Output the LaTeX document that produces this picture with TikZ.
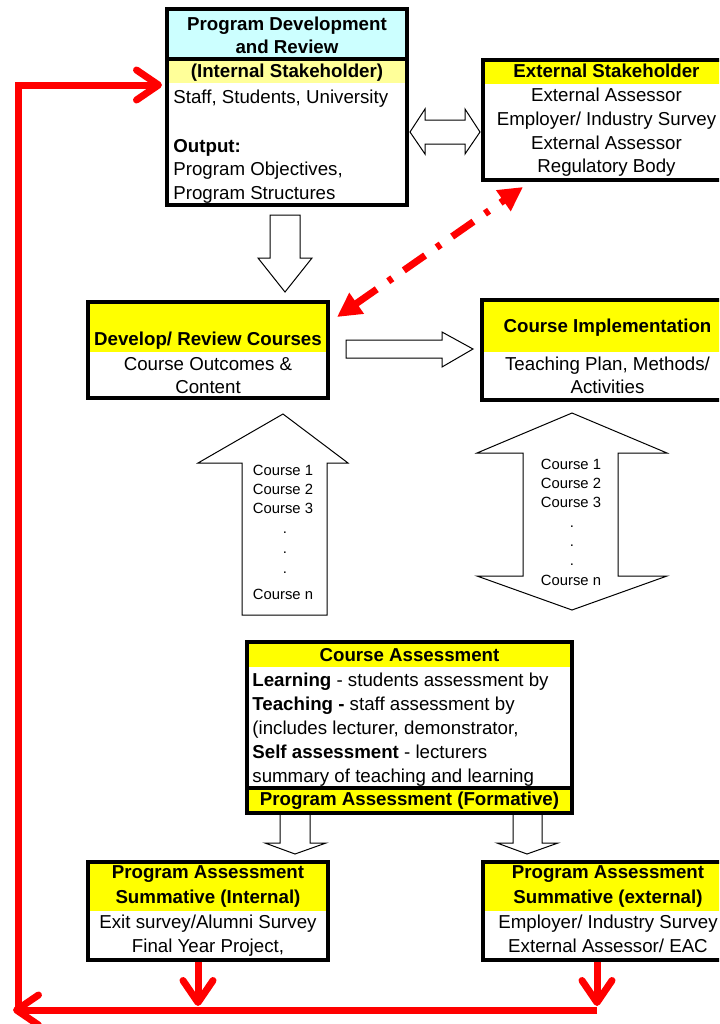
\documentclass[tikz,border=0pt]{standalone}
\usepackage{fontspec}
\setmainfont{Liberation Sans}
\usetikzlibrary{arrows.meta}
\definecolor{hdyellow}{HTML}{FFFF00}
\definecolor{hdcyan}{HTML}{CCFFFF}
\definecolor{ltyellow}{HTML}{FFFF99}
\definecolor{arrred}{HTML}{FF0000}
\begin{document}
\begin{tikzpicture}[x=0.5pt,y=-0.5pt,
 box/.style={draw=black, line width=1.75pt, inner sep=0, outer sep=0},
 sepline/.style={draw=black, line width=1.6pt},
 txt/.style={inner sep=0, anchor=base, font=\fontsize{9.35pt}{11pt}\selectfont},
 txtb/.style={txt, font=\fontsize{9.35pt}{11pt}\selectfont\bfseries},
 txtl/.style={txt, anchor=base west},
 txtlb/.style={txtb, anchor=base west},
 crs/.style={inner sep=0, anchor=base, font=\fontsize{7.4pt}{9pt}\selectfont},
 blk/.style={draw=black, line width=0.5pt, fill=white, line join=miter},
 redarr/.style={draw=arrred, line width=3.5pt, -{Straight Barb[length=11pt,width=15pt,round]}},
 dasharr/.style={draw=arrred, line width=3.5pt, dash pattern=on 13pt off 7pt on 2.5pt off 7pt,
   {Triangle[length=12pt,width=12pt]}-{Triangle[length=12pt,width=12pt]}}
]
\useasboundingbox (0,0) rectangle (719,1024);
\clip (0,0) rectangle (719,1024);

% ---- block arrows
\draw[blk] (270,215) -- (300,215) -- (300,258) -- (312,258) -- (285,292) -- (258,258) -- (270,258) -- cycle;
\draw[blk] (410,132) -- (425,109) -- (425,120) -- (465,120) -- (465,109) -- (480,132) -- (465,154) -- (465,144) -- (425,144) -- (425,154) -- cycle;
\draw[blk] (346,340) -- (442,340) -- (442,332) -- (473,349) -- (442,367) -- (442,358) -- (346,358) -- cycle;
\draw[blk] (283,414) -- (348,463) -- (327,463) -- (327,615) -- (242,615) -- (242,463) -- (198,463) -- cycle;
\draw[blk] (572,413) -- (667,453) -- (618,453) -- (618,576) -- (667,576) -- (572,610) -- (477,576) -- (523,576) -- (523,453) -- (477,453) -- cycle;
\draw[blk] (280,813) -- (310,813) -- (310,843) -- (326,843) -- (295,854) -- (265,843) -- (280,843) -- cycle;
\draw[blk] (513,813) -- (542,813) -- (542,843) -- (558,843) -- (527,854) -- (497,843) -- (513,843) -- cycle;

% ---- header fills
\fill[hdcyan] (167,9) rectangle (407,59);
\fill[ltyellow] (167,59) rectangle (407,83);
\fill[hdyellow] (483,60) rectangle (730,84);
\fill[hdyellow] (88,302) rectangle (328,352);
\fill[hdyellow] (482,300) rectangle (733,352);
\fill[hdyellow] (247,642) rectangle (572,667);
\fill[hdyellow] (247,788) rectangle (572,813);
\fill[hdyellow] (88,862) rectangle (328,911);
\fill[hdyellow] (483,862) rectangle (733,911);

% ---- boxes
\node[box, minimum width=120pt, minimum height=98pt] (pd) at (287,107) {};
\node[box, minimum width=123.5pt, minimum height=60pt] (es) at (606.5,120) {};
\node[box, minimum width=120pt, minimum height=48pt] (dv) at (208,350) {};
\node[box, minimum width=125.5pt, minimum height=50pt] (ci) at (607.5,350) {};
\node[box, minimum width=162.5pt, minimum height=85.5pt] (ca) at (409.5,727.5) {};
\node[box, minimum width=120pt, minimum height=49pt] (si) at (208,911) {};
\node[box, minimum width=125pt, minimum height=49pt] (se) at (608,911) {};
\draw[sepline] (167,59) -- (407,59);
\draw[sepline] (247,788) -- (572,788);

% ---- texts: program development
\node[txtb] (pd1) at (287,30) {Program Development};
\node[txtb] (pd2) at (287,53.5) {and Review};
\node[txtb] (pd3) at (287,77) {(Internal Stakeholder)};
\node[txtl] (pd4) at (173,103) {Staff, Students, University};
\node[txtlb] (pd5) at (173,152) {Output:};
\node[txtl] (pd6) at (173,175.5) {Program Objectives,};
\node[txtl] (pd7) at (173,199) {Program Structures};

% external stakeholder
\node[txtb] (es1) at (606.5,77) {External Stakeholder};
\node[txt] (es2) at (606.5,101.5) {External Assessor};
\node[txt] (es3) at (606.5,125) {Employer/ Industry Survey};
\node[txt] (es4) at (606.5,149) {External Assessor};
\node[txt] (es5) at (606.5,172.7) {Regulatory Body};

% develop / review
\node[txtb] (dv1) at (208,345) {Develop/ Review Courses};
\node[txt] (dv2) at (208,370) {Course Outcomes \&};
\node[txt] (dv3) at (208,393.5) {Content};

% course implementation
\node[txtb] (ci1) at (607.5,332) {Course Implementation};
\node[txt] (ci2) at (607.5,370) {Teaching Plan, Methods/};
\node[txt] (ci3) at (607.5,393.5) {Activities};

% course lists
\node[crs] (cl1) at (283,475) {Course 1};
\node[crs] (cl2) at (283,494) {Course 2};
\node[crs] (cl3) at (283,513) {Course 3};
\node[crs] (cl4) at (285,533) {.};
\node[crs] (cl5) at (285,553) {.};
\node[crs] (cl6) at (285,573) {.};
\node[crs] (cl7) at (283,599) {Course n};
\node[crs] (cr1) at (571,469) {Course 1};
\node[crs] (cr2) at (571,488) {Course 2};
\node[crs] (cr3) at (571,507) {Course 3};
\node[crs] (cr4) at (572,527) {.};
\node[crs] (cr5) at (572,546) {.};
\node[crs] (cr6) at (572,565) {.};
\node[crs] (cr7) at (571,585) {Course n};

% course assessment
\node[txtb] (ca1) at (409.5,661) {Course Assessment};
\node[txtl] (ca2) at (252,686.7) {\textbf{Learning} - students assessment by};
\node[txtl] (ca3) at (252,710.6) {\textbf{Teaching -} staff assessment by};
\node[txtl] (ca4) at (252,734.5) {(includes lecturer, demonstrator,};
\node[txtl] (ca5) at (252,758.4) {\textbf{Self assessment} - lecturers};
\node[txtl] (ca6) at (252,782.3) {summary of teaching and learning};
\node[txtb] (ca7) at (409.5,805) {Program Assessment (Formative)};

% summative internal
\node[txtb] (si1) at (208,878.3) {Program Assessment};
\node[txtb] (si2) at (208,903) {Summative (Internal)};
\node[txt] (si3) at (208,928) {Exit survey/Alumni Survey};
\node[txt] (si4) at (208,952) {Final Year Project,};

% summative external
\node[txtb] (se1) at (608,878.3) {Program Assessment};
\node[txtb] (se2) at (608,903) {Summative (external)};
\node[txt] (se3) at (608,928) {Employer/ Industry Survey};
\node[txt] (se4) at (608,952) {External Assessor/ EAC};

% ---- red connectors
\coordinate (ra) at (198,962);
\coordinate (rae) at (198,1006);
\coordinate (rb) at (597,962);
\coordinate (rbe) at (597,1006);
\coordinate (rh) at (597,1010);
\coordinate (rl) at (13,1010);
\coordinate (rv) at (18,1012);
\coordinate (rt) at (18,85);
\coordinate (rin) at (162,85);
\draw[redarr] (rh) -- (rl);
\draw[redarr, line join=miter] (rv) -- (rt) -- (rin);
\draw[redarr] (ra) -- (rae);
\draw[redarr] (rb) -- (rbe);
\coordinate (dl) at (337,317);
\coordinate (du) at (523,187);
\draw[dasharr] (dl) -- (du);
\end{tikzpicture}
\end{document}
